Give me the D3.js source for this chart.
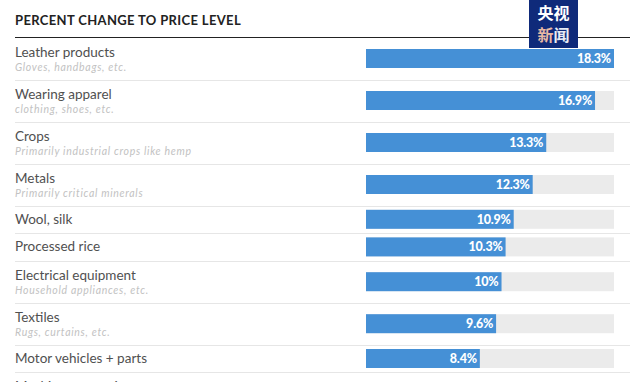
<!DOCTYPE html>
<html><head><meta charset="utf-8">
<script src="https://cdn.jsdelivr.net/npm/d3@7"></script>
<style>
html,body{margin:0;padding:0;background:#fff;overflow:hidden}
svg{display:block}
</style></head>
<body>
<svg id="chart" width="636" height="382"></svg>
<script>
const title = "PERCENT CHANGE TO PRICE LEVEL";
const categories = ["Leather products","Wearing apparel","Crops","Metals","Wool, silk","Processed rice","Electrical equipment","Textiles","Motor vehicles + parts","Machinery + equipment"];
const subtitles = ["Gloves, handbags, etc.","clothing, shoes, etc.","Primarily industrial crops like hemp","Primarily critical minerals","","","Household appliances, etc.","Rugs, curtains, etc.","",""];
const values = [18.3,16.9,13.3,12.3,10.9,10.3,10,9.6,8.4,null];
const valueLabels = ["18.3%","16.9%","13.3%","12.3%","10.9%","10.3%","10%","9.6%","8.4%",""];

const svg = d3.select("#chart");
const font = "Lato, 'Open Sans', sans-serif";
const left = 15, right = 630;
const headerY = 37.5;
const tallH = 42, shortH = 27.6;

let y0 = headerY;
const rows = categories.map((c,i)=>{
  const h = subtitles[i] ? tallH : shortH;
  const r = {cat:c, sub:subtitles[i], val:values[i], lab:valueLabels[i], top:y0, h:h};
  y0 += h; return r;
});

const x = d3.scaleLinear().domain([0, d3.max(values)]).range([366, 614]);
const barH = 19;

svg.append("text").attr("x",left).attr("y",25)
  .attr("font-family",font).attr("font-weight",700).attr("font-size",13)
  .attr("letter-spacing",0.35).attr("fill","#222").text(title);

svg.append("line").attr("x1",left).attr("x2",right).attr("y1",headerY).attr("y2",headerY)
  .attr("stroke","#222").attr("stroke-width",1.2);

const g = svg.selectAll("g.row").data(rows).join("g").attr("class","row");

g.append("line").attr("x1",left).attr("x2",right)
  .attr("y1",d=>Math.round(d.top+d.h)+0.5).attr("y2",d=>Math.round(d.top+d.h)+0.5)
  .attr("stroke","#e6e6e6").attr("stroke-width",1);

g.append("text").attr("x",left)
  .attr("y",d=> d.sub ? d.top+19 : d.top+d.h/2+4.5)
  .attr("font-family",font).attr("font-size",13.5).attr("fill","#505050")
  .text(d=>d.cat);

g.filter(d=>d.sub).append("text").attr("x",left).attr("y",d=>d.top+33)
  .attr("font-family",font).attr("font-size",10.5).attr("font-style","italic")
  .attr("letter-spacing",0.7).attr("fill","#c2c2c2").text(d=>d.sub);

const bars = g.filter(d=>d.val!=null);
bars.append("rect").attr("x",x(0)).attr("width",x(d3.max(values))-x(0))
  .attr("y",d=>d.top+d.h/2-barH/2).attr("height",barH).attr("fill","#ebebeb");
bars.append("rect").attr("x",x(0)).attr("width",d=>x(d.val)-x(0))
  .attr("y",d=>d.top+d.h/2-barH/2).attr("height",barH).attr("fill","#4590d6");
bars.append("text").attr("x",d=>x(d.val)-3).attr("y",d=>d.top+d.h/2+4.5)
  .attr("text-anchor","end").attr("font-family",font).attr("font-weight",900)
  .attr("font-size",12.5).attr("fill","#fff").attr("letter-spacing",-0.2)
  .text(d=>d.lab);

// watermark logo
const wm = svg.append("g");
wm.append("rect").attr("x",529).attr("y",0).attr("width",49).attr("height",48).attr("fill","#0f2a7a");
wm.append("text").attr("x",553.5).attr("y",19).attr("text-anchor","middle")
  .attr("font-family","'Noto Sans CJK SC'").attr("font-weight",700).attr("font-size",16)
  .attr("fill","#fff").text("央视");
const t2 = wm.append("text").attr("x",553.5).attr("y",41).attr("text-anchor","middle")
  .attr("font-family","'Noto Sans CJK SC'").attr("font-weight",700).attr("font-size",16);
t2.append("tspan").attr("fill","#e9b9a4").text("新");
t2.append("tspan").attr("fill","#e8ecf5").text("闻");
</script>
</body></html>
